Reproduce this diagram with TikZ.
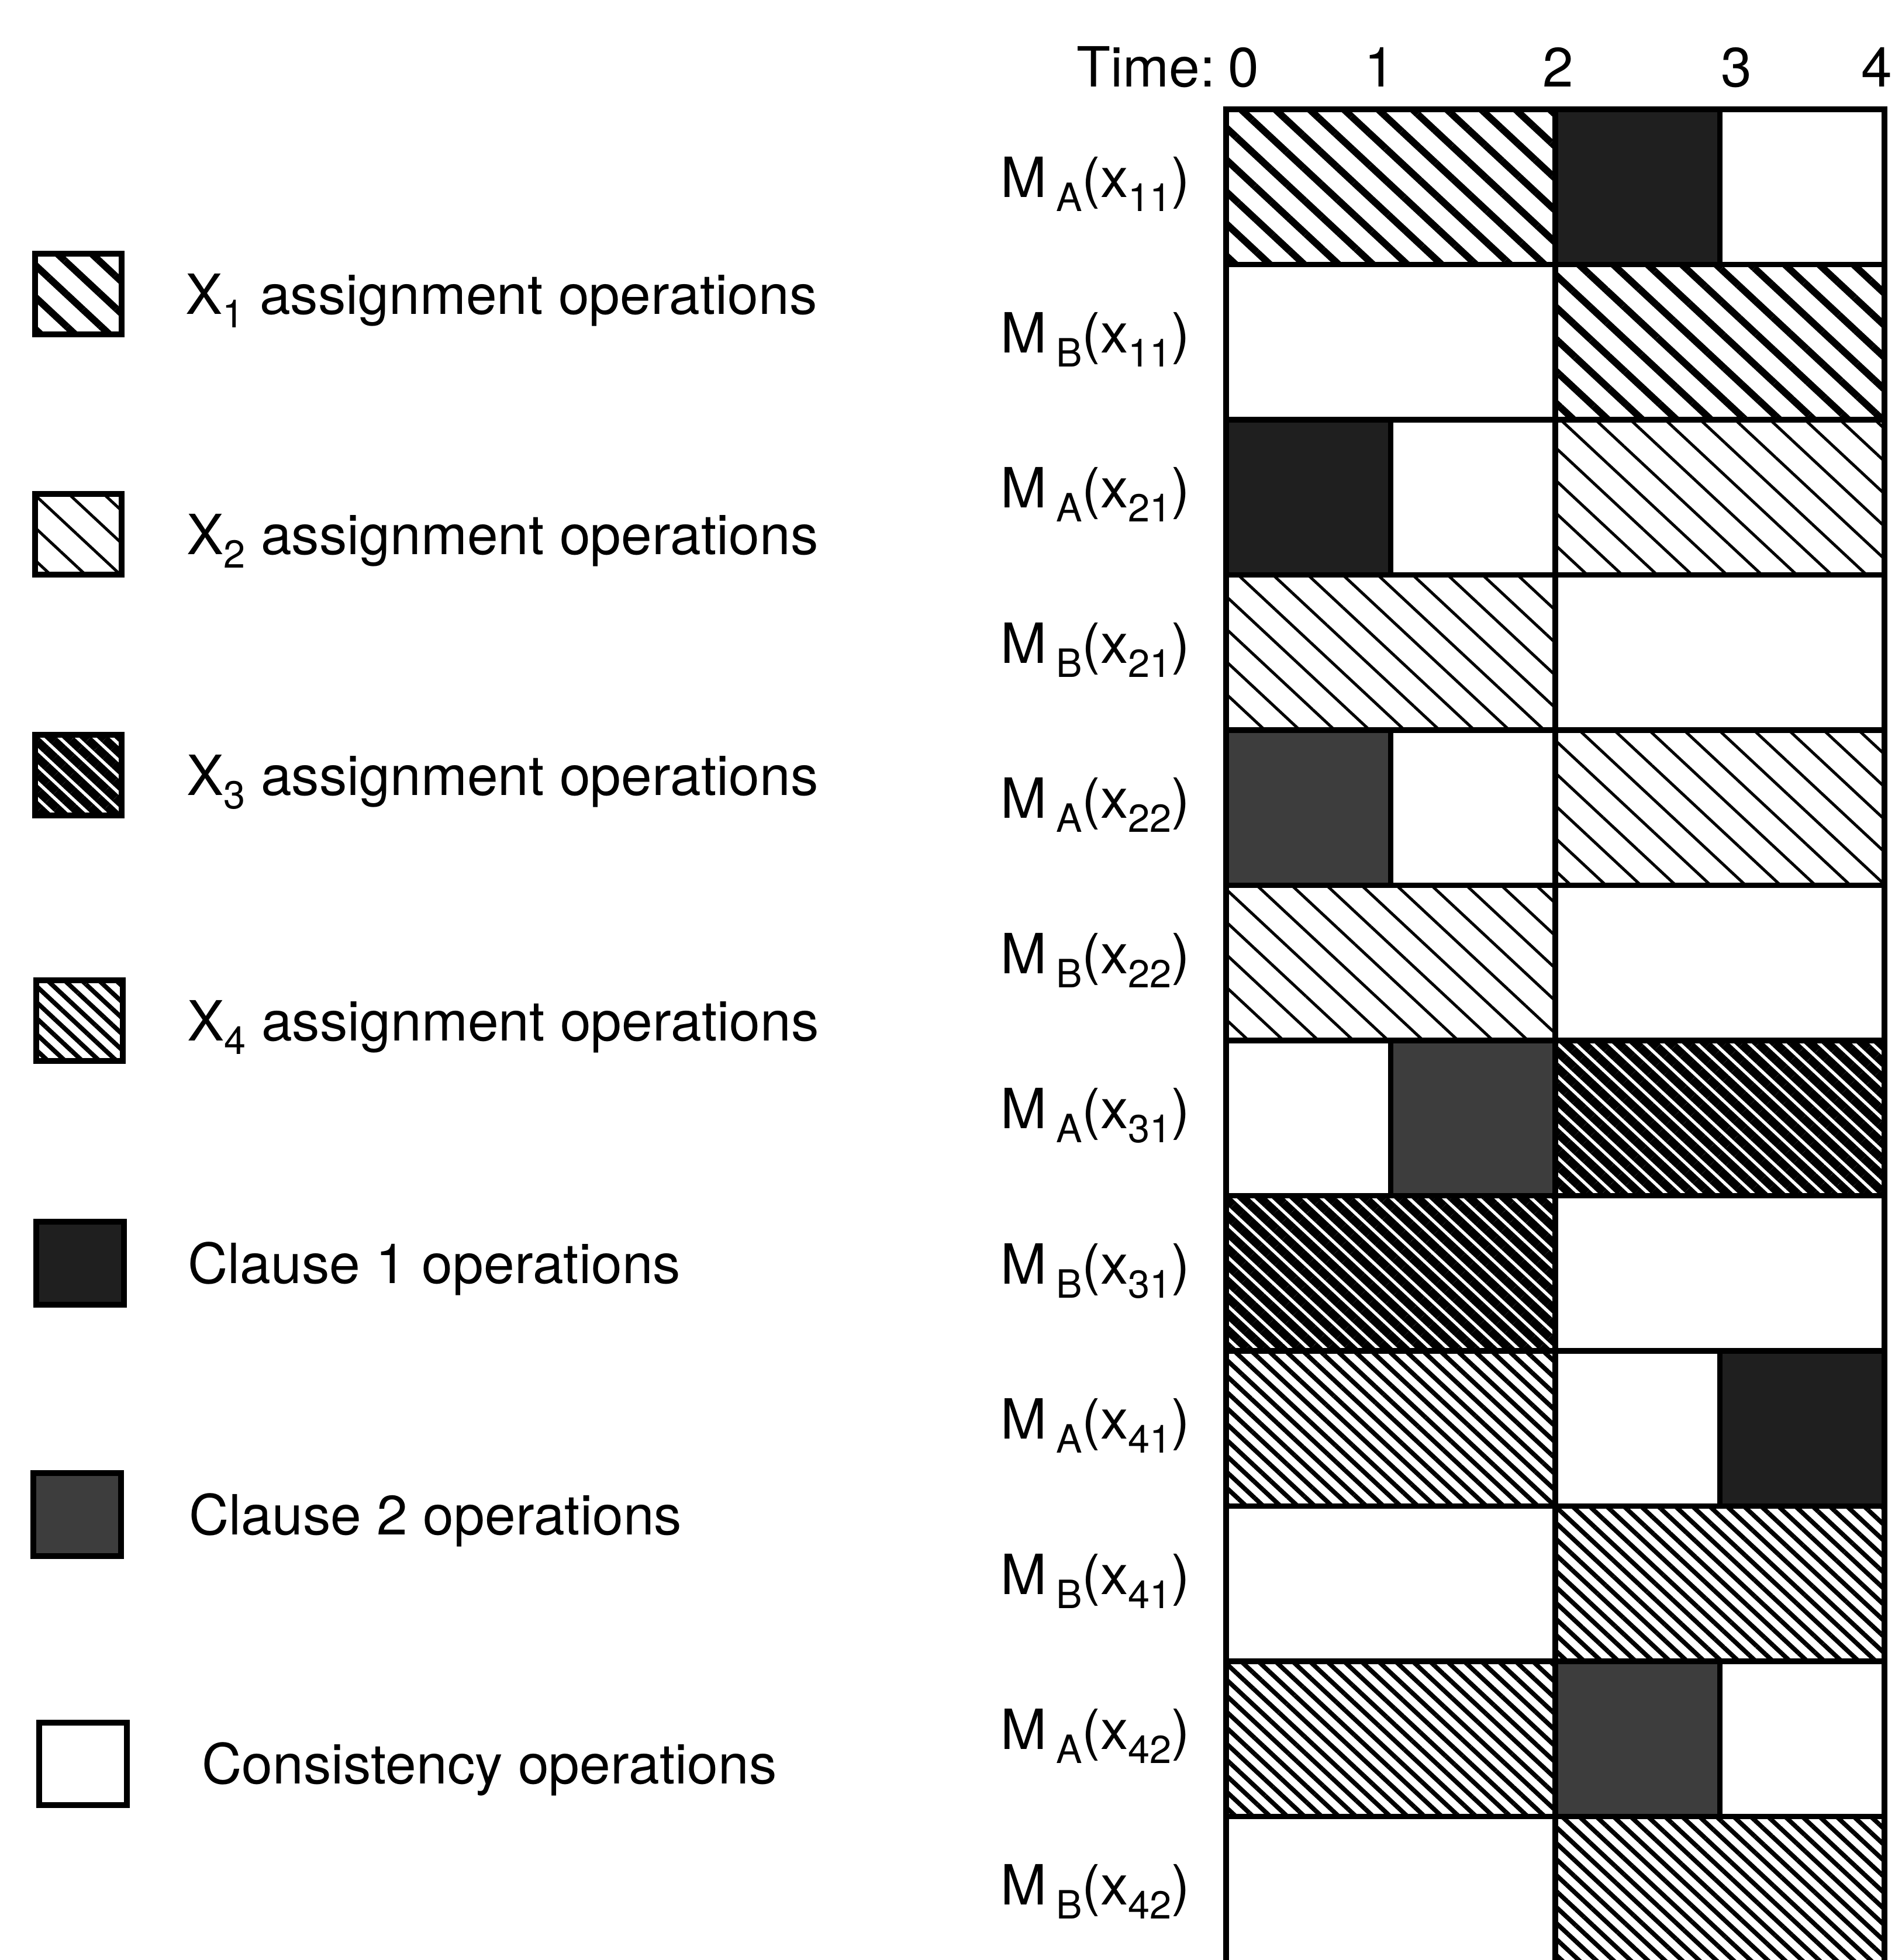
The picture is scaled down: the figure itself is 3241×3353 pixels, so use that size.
\documentclass[tikz,border=0pt]{standalone}
\usepackage{fontspec}
\setmainfont{TeX Gyre Heros}
\usetikzlibrary{patterns.meta}

\newcommand{\lsub}[1]{\raisebox{-3.4pt}{\fontsize{9.5}{10}\selectfont #1}}

\tikzset{
	xone/.style={pattern={Lines[angle=-43,distance=5.7pt,line width=1.7pt]}},
	xtwo/.style={pattern={Lines[angle=-43,distance=5.8pt,line width=0.7pt]}},
	xthree/.style={pattern={Lines[angle=-43,distance=2.9pt,line width=2.1pt]}},
	xfour/.style={pattern={Lines[angle=-43,distance=2.85pt,line width=1.1pt]}},
	clauseone/.style={fill=black!88},
	clausetwo/.style={fill=black!76},
	consist/.style={fill=white},
	cell/.style={draw=black, line width=1.3pt},
	lbl/.style={font=\fontsize{13.5}{16}\selectfont, inner sep=0pt}
}

\begin{document}
\begin{tikzpicture}[x=0.005cm, y=-0.005cm]
	\useasboundingbox (0,0) rectangle (3241,3353);
	
	% Define the variables
	\def\xo{2097}
	\def\unit{281.5}
	\def\ytop{187}
	\def\rowh{265.5}
	
	% Time axis
	\node[lbl, anchor=base east] (timelbl) at (2080,148) {Time:};
	\foreach \t/\x in {0/2127, 1/2360, 2/2665, 3/2970, 4/3210}
	\node[lbl, anchor=base] (time\t) at (\x,148) {\t};
	
	% Schedule
	\foreach \r/\a/\b/\s in {0/0/2/xone, 0/2/3/clauseone, 0/3/4/consist,
		1/0/2/consist, 1/2/4/xone,
		2/0/1/clauseone, 2/1/2/consist, 2/2/4/xtwo,
		3/0/2/xtwo, 3/2/4/consist,
		4/0/1/clausetwo, 4/1/2/consist, 4/2/4/xtwo,
		5/0/2/xtwo, 5/2/4/consist,
		6/0/1/consist, 6/1/2/clausetwo, 6/2/4/xthree,
		7/0/2/xthree, 7/2/4/consist,
		8/0/2/xfour, 8/2/3/consist, 8/3/4/clauseone,
		9/0/2/consist, 9/2/4/xfour,
		10/0/2/xfour, 10/2/3/clausetwo, 10/3/4/consist,
		11/0/2/consist, 11/2/4/xfour}
	\draw[cell, \s] ({\xo+\a*\unit},{\ytop+\r*\rowh}) rectangle ({\xo+\b*\unit},{\ytop+(\r+1)*\rowh});
	
	% Machines
	\foreach \r/\m/\v in {0/A/11, 1/B/11, 2/A/21, 3/B/21, 4/A/22, 5/B/22,
		6/A/31, 7/B/31, 8/A/41, 9/B/41, 10/A/42, 11/B/42}
	\node[lbl, anchor=base west] (mach\r) at (1710,{\ytop+(\r+0.5)*\rowh+18}) {M\,\lsub{\m}(x\lsub{\v})};
	
	% Legend
	\foreach \s/\x/\y/\tx/\n in {xone/60/434/316/1, xtwo/60/845/318/2, xthree/60/1257/318/3, xfour/62/1677/319/4}
	{
		\draw[cell, \s] (\x,\y) rectangle ++(148,138);
		\node[lbl, anchor=base west] (key\n) at (\tx,{\y+69+34}) {X\lsub{\n}\ assignment operations};
	}
	\foreach \s/\x/\y/\tx/\n in {clauseone/62/2090/320/1, clausetwo/57/2520/322/2}
	{
		\draw[cell, \s] (\x,\y) rectangle ++(150,142);
		\node[lbl, anchor=base west] (clause\n) at (\tx,{\y+71+34}) {Clause \n\ operations};
	}
	\draw[cell, consist] (67,2947) rectangle ++(150,141);
	\node[lbl, anchor=base west] (consistency) at (344,{2947+70+34}) {Consistency operations};
\end{tikzpicture}
\end{document}
